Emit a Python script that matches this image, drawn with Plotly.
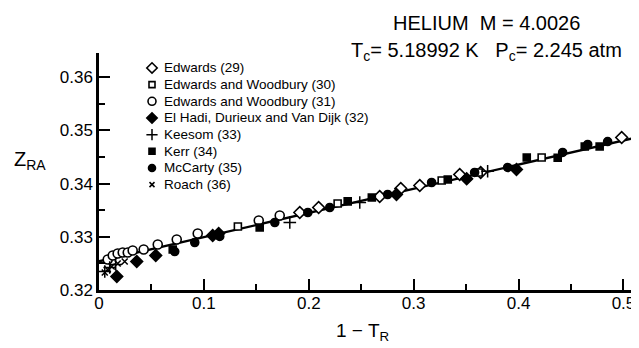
import numpy as np
import plotly.graph_objects as go

# ---- data ----
edw29_x = [0.1914, 0.2094, 0.2676, 0.2877, 0.3058, 0.3439, 0.3639, 0.4983]
edw29_y = [0.33457, 0.33551, 0.33758, 0.33908, 0.33964, 0.34171, 0.34209, 0.34867]

ew30_x = [0.1324, 0.2275, 0.3267, 0.3620, 0.4220]
ew30_y = [0.33194, 0.33626, 0.34058, 0.34210, 0.34491]

ew31_x = [0.0083, 0.0131, 0.0178, 0.0226, 0.0274, 0.0321, 0.0426, 0.0560, 0.0741, 0.0941, 0.1523, 0.1723]
ew31_y = [0.32573, 0.32648, 0.32686, 0.32705, 0.32705, 0.32742, 0.32761, 0.32855, 0.32949, 0.33062, 0.33306, 0.33400]

elhadi_x = [0.0170, 0.0360, 0.0541, 0.1084, 0.1141, 0.2836, 0.3505, 0.3980]
elhadi_y = [0.32254, 0.32536, 0.32648, 0.33024, 0.33062, 0.33795, 0.34090, 0.34265]

keesom_x = [0.0055, 0.0102, 0.0159, 0.1819, 0.2486, 0.3705]
keesom_y = [0.32348, 0.32423, 0.32479, 0.33269, 0.33645, 0.34233]

kerr_x = [0.0703, 0.1532, 0.2371, 0.2601, 0.3325, 0.4078, 0.4373, 0.4631, 0.4773]
kerr_y = [0.32761, 0.33175, 0.33665, 0.33739, 0.34077, 0.34491, 0.34485, 0.34697, 0.34697]

mccarty_x = [0.0722, 0.0913, 0.1151, 0.1676, 0.1991, 0.2200, 0.2752, 0.3171, 0.3581, 0.3896, 0.4420, 0.4659, 0.4849]
mccarty_y = [0.32723, 0.32893, 0.33006, 0.33269, 0.33457, 0.33551, 0.33795, 0.34021, 0.34209, 0.34303, 0.34585, 0.34735, 0.34791]

roach_x = [0.0055, 0.0083, 0.0121, 0.0178, 0.0245]
roach_y = [0.32329, 0.32385, 0.32442, 0.32498, 0.32536]

fit_intercept = 0.3254
fit_slope = 0.0454

x_tickvals = [0, 0.1, 0.2, 0.3, 0.4, 0.5]
x_ticktext = ["0", "0.1", "0.2", "0.3", "0.4", "0.5"]
y_tickvals = [0.32, 0.33, 0.34, 0.35, 0.36]
y_ticktext = ["0.32", "0.33", "0.34", "0.35", "0.36"]

names = ["Edwards (29)", "Edwards and Woodbury (30)", "Edwards and Woodbury (31)",
         "El Hadi, Durieux and Van Dijk (32)", "Keesom (33)", "Kerr (34)",
         "McCarty (35)", "Roach (36)"]

X_RANGE = [0, 0.5129]
Y_RANGE = [0.32, 0.36455]

FONT = "Liberation Sans"
OFF = 8  # page body margin of the browser
W, H = 639 - OFF, 348 - OFF
ML, MR, MT = 99 - OFF, 2, 53 - OFF
MB = H - (290.5 - OFF)
PW, PH = W - ML - MR, H - MT - MB


def px_x(p):  # reference pixel -> plot-area pixel
    return p - OFF - ML


def px_y(p):
    return p - OFF - MT


def paper_x(p):
    return px_x(p) / PW


def paper_y(p):
    return 1 - px_y(p) / PH


fig = go.Figure()

fit_x = np.array(X_RANGE)
fig.add_trace(go.Scatter(x=fit_x, y=fit_intercept + fit_slope * fit_x, mode="lines",
                         line=dict(color="black", width=2.4), showlegend=False, hoverinfo="skip"))

styles = [
    (edw29_x, edw29_y, "diamond", "white", 9),
    (ew30_x, ew30_y, "square", "white", 7),
    (ew31_x, ew31_y, "circle", "white", 9),
    (elhadi_x, elhadi_y, "diamond", "black", 9),
    (keesom_x, keesom_y, "cross-thin", "black", 9),
    (kerr_x, kerr_y, "square", "black", 7),
    (mccarty_x, mccarty_y, "circle", "black", 8),
    (roach_x, roach_y, "x-thin", "black", 6),
]

LEG_SYM_X = 152
LEG_TXT_X = 162
LEG_TOP = 68
LEG_STEP = 16.7

for i, (name, (xs, ys, sym, fill, size)) in enumerate(zip(names, styles)):
    thin = sym.endswith("thin")
    mk = dict(symbol=sym, size=size, color=fill,
              line=dict(color="black", width=1.6 if not thin else 1.5))
    fig.add_trace(go.Scatter(x=xs, y=ys, mode="markers", name=name, marker=mk, showlegend=False))
    ly = LEG_TOP + i * LEG_STEP
    fig.add_trace(go.Scatter(x=[px_x(LEG_SYM_X)], y=[px_y(ly)], xaxis="x2", yaxis="y2", mode="markers",
                             marker=dict(mk, size=size - 1), showlegend=False, hoverinfo="skip"))
    fig.add_annotation(text=name, xref="paper", yref="paper", x=paper_x(LEG_TXT_X), y=paper_y(ly),
                       xanchor="left", yanchor="middle", showarrow=False,
                       font=dict(size=13.5, family=FONT, color="black"))

axis_common = dict(showgrid=False, zeroline=False, showline=True, automargin=False,
                   linecolor="black", linewidth=2.5, ticks="inside", ticklen=11, tickwidth=1.5,
                   tickcolor="black", ticklabeloverflow="allow",
                   tickfont=dict(size=17, family=FONT, color="black"))

fig.update_layout(
    width=W, height=H,
    margin=dict(l=ML, r=MR, t=MT, b=MB),
    paper_bgcolor="white", plot_bgcolor="white",
    font=dict(family=FONT, color="black"),
    showlegend=False,
    xaxis=dict(range=X_RANGE, tickvals=x_tickvals, ticktext=x_ticktext, ticklabelstandoff=-4,
               minor=dict(dtick=0.05, ticks="inside", ticklen=6, tickwidth=1.5, tickcolor="black"),
               **axis_common),
    yaxis=dict(range=Y_RANGE, tickvals=y_tickvals, ticktext=y_ticktext,
               minor=dict(dtick=0.005, ticks="inside", ticklen=6, tickwidth=1.5, tickcolor="black"),
               **axis_common),
    xaxis2=dict(overlaying="x", anchor="y2", range=[0, PW], visible=False, automargin=False),
    yaxis2=dict(overlaying="y", anchor="x2", range=[PH, 0], visible=False, automargin=False),
)

fig.add_annotation(text="HELIUM  M = 4.0026", xref="paper", yref="paper",
                   x=paper_x(391), y=paper_y(23), xanchor="left", yanchor="middle",
                   showarrow=False, font=dict(size=20, family=FONT, color="black"))
fig.add_annotation(text="T<sub>c</sub>= 5.18992 K   P<sub>c</sub>= 2.245 atm", xref="paper", yref="paper",
                   x=paper_x(349), y=paper_y(51), xanchor="left", yanchor="middle",
                   showarrow=False, font=dict(size=20, family=FONT, color="black"))
fig.add_annotation(text="Z<sub>RA</sub>", xref="paper", yref="paper",
                   x=paper_x(12), y=paper_y(161), xanchor="left", yanchor="middle",
                   showarrow=False, font=dict(size=20, family=FONT, color="black"))
fig.add_annotation(text="1 − T<sub>R</sub>", xref="paper", yref="paper",
                   x=paper_x(362), y=paper_y(333), xanchor="center", yanchor="middle",
                   showarrow=False, font=dict(size=19, family=FONT, color="black"))

fig.write_html("out.html")
